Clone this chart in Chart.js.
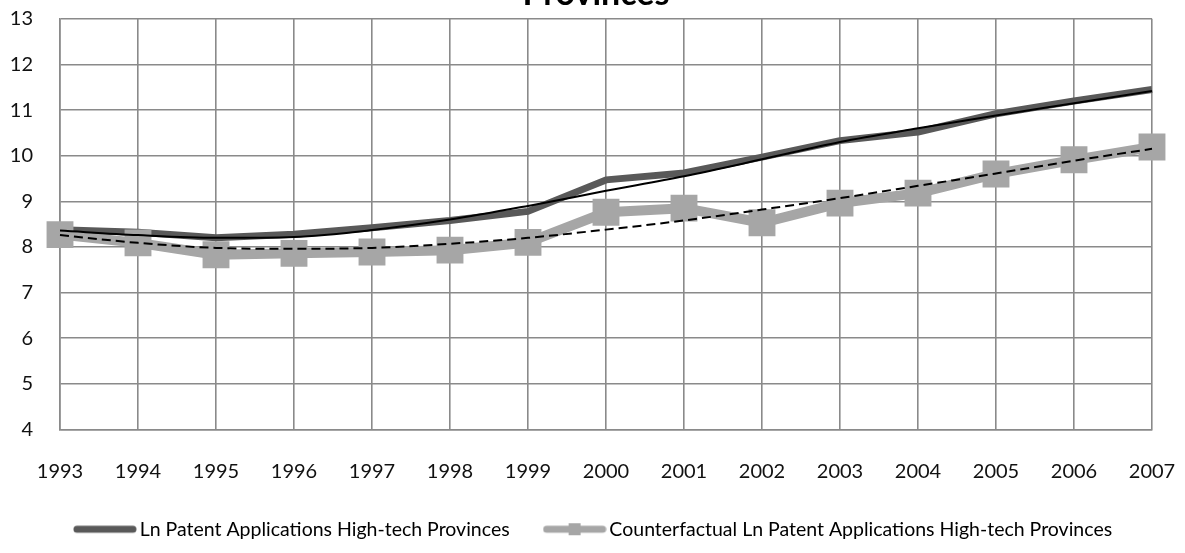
<!DOCTYPE html>
<html>
<head>
<meta charset="utf-8">
<script src="https://cdn.jsdelivr.net/npm/chart.js@4.4.0/dist/chart.umd.min.js"></script>
<style>
  html, body { margin: 0; padding: 0; background: #fff; }
  #wrap { position: relative; width: 1185px; height: 553px; overflow: hidden; }
  /* title's first line sits above the visible area in the original */
  #chart { position: absolute; left: 0; top: -26px; }
</style>
</head>
<body>
<div id="wrap"><canvas id="chart" width="1185" height="579"></canvas></div>
<script>
const years = ['1993', '1994', '1995', '1996', '1997', '1998', '1999', '2000',
  '2001', '2002', '2003', '2004', '2005', '2006', '2007'];
const patents = [8.38, 8.32, 8.2, 8.28, 8.42, 8.58, 8.78, 9.47, 9.62, 9.97, 10.33, 10.52, 10.92, 11.2, 11.45];
const counterfactual = [8.27, 8.09, 7.83, 7.86, 7.89, 7.93, 8.1, 8.76, 8.85, 8.53, 8.96, 9.18, 9.6, 9.91, 10.19];
// trendlines as drawn in the original (thin black solid / dashed)
const patentsTrend = [8.36, 8.26, 8.2, 8.22, 8.37, 8.6, 8.9, 9.23, 9.55, 9.92, 10.3, 10.6, 10.88, 11.15, 11.42];
const counterfactualTrend = [8.26, 8.09, 7.98, 7.96, 7.98, 8.07, 8.2, 8.38, 8.58, 8.82, 9.07, 9.34, 9.61, 9.89, 10.15];
const seriesNames = ['Ln Patent Applications High-tech Provinces',
  'Counterfactual Ln Patent Applications High-tech Provinces'];
const titleText = 'Provinces';

const DARK = '#595959';
const LIGHT = '#a6a6a6';
const GRID = '#8a8a8a';
const FONT = 'Lato';

// small legend swatch: a thick line, optionally with a square marker
function swatch(color, marker) {
  const c = document.createElement('canvas');
  c.width = 64; c.height = 14;
  const g = c.getContext('2d');
  g.strokeStyle = color;
  g.lineWidth = 7;
  g.lineCap = 'round';
  g.beginPath(); g.moveTo(4, 7); g.lineTo(60, 7); g.stroke();
  if (marker) {
    g.fillStyle = color;
    g.fillRect(26, 1, 12, 12);
  }
  return c;
}

const ctx = document.getElementById('chart').getContext('2d');
new Chart(ctx, {
  type: 'line',
  data: {
    labels: years,
    datasets: [
      {
        label: seriesNames[0], data: patents,
        borderColor: DARK, backgroundColor: DARK, borderWidth: 7,
        pointRadius: 0, tension: 0, borderJoinStyle: 'round', order: 4
      },
      {
        label: seriesNames[1], data: counterfactual,
        borderColor: LIGHT, backgroundColor: LIGHT, borderWidth: 10,
        pointStyle: 'rect', pointRadius: 19, pointBackgroundColor: LIGHT,
        pointBorderWidth: 0, tension: 0, borderJoinStyle: 'round', order: 3
      },
      {
        label: 'trend1', data: patentsTrend,
        borderColor: '#000', borderWidth: 2, pointRadius: 0,
        tension: 0.4, cubicInterpolationMode: 'monotone', order: 1
      },
      {
        label: 'trend2', data: counterfactualTrend,
        borderColor: '#000', borderWidth: 2, borderDash: [9, 5], pointRadius: 0,
        tension: 0.4, cubicInterpolationMode: 'monotone', order: 2
      }
    ]
  },
  options: {
    responsive: false,
    animation: false,
    devicePixelRatio: 1,
    layout: { padding: { left: 10, right: 3, top: 0, bottom: 4 } },
    plugins: {
      title: {
        display: true, text: titleText, color: '#000',
        font: { family: FONT, size: 34, weight: 'bold' },
        padding: { top: 0, bottom: 4 }
      },
      legend: {
        position: 'bottom',
        labels: {
          usePointStyle: true, pointStyleWidth: 50, padding: 40,
          color: '#111', font: { family: FONT, size: 19.5 },
          generateLabels: () => [0, 1].map(i => ({
            text: seriesNames[i], datasetIndex: i,
            pointStyle: swatch(i === 0 ? DARK : LIGHT, i === 1),
            fillStyle: 'transparent', strokeStyle: 'transparent', lineWidth: 0
          }))
        }
      },
      tooltip: { enabled: false }
    },
    scales: {
      x: {
        offset: false,
        grid: { color: GRID, lineWidth: 1.6, drawTicks: false },
        border: { color: GRID, width: 1.6 },
        ticks: { padding: 30, color: '#111', font: { family: FONT, size: 20 } },
        afterFit: s => { s.height = 50; s.paddingRight = 33; }
      },
      y: {
        min: 4, max: 13,
        grid: { color: GRID, lineWidth: 1.6, drawTicks: false },
        border: { color: GRID, width: 1.6 },
        ticks: { stepSize: 1, padding: 27, color: '#111', font: { family: FONT, size: 20 } },
        afterFit: s => { s.width = 50; }
      }
    }
  }
});
</script>
</body>
</html>
